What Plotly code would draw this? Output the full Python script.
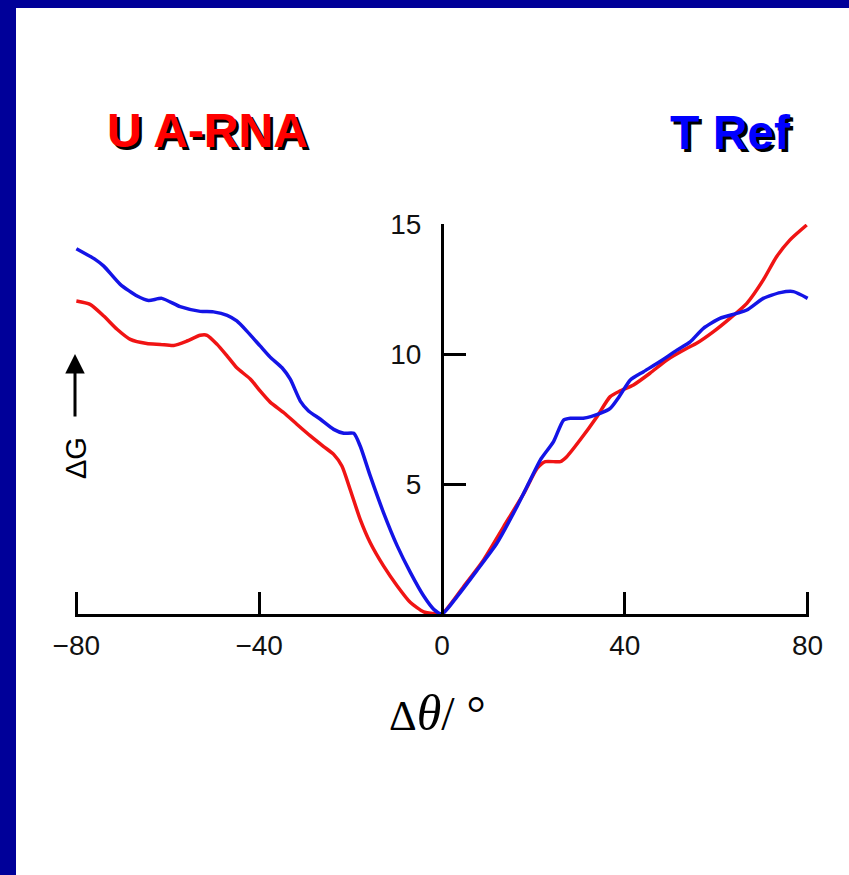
import plotly.graph_objects as go

# ---- data ----
ua_rna_x = [-80, -77.0, -74.0, -71.1, -68.2, -64.6, -61.6, -58.7, -55.8, -52.9, -51.4, -49.2, -47.0,
            -44.9, -41.9, -39.8, -37.6, -34.6, -31.7, -28.8, -25.9, -23.7, -21.9, -20.1, -17.9,
            -15.7, -12.8, -9.8, -6.9, -4.0, -1.1, 0,
            4.7, 9.1, 13.5, 17.9, 20.8, 22.6, 25.9, 27.3, 30.2, 33.9, 36.8, 39.0, 41.9, 45.5,
            49.2, 53.6, 55.7, 59.4, 63.0, 66.7, 70.3, 73.2, 76.1, 79.8]
ua_rna_y = [12.04, 11.91, 11.46, 10.95, 10.56, 10.40, 10.37, 10.33, 10.50, 10.72, 10.72, 10.37, 9.92,
            9.47, 9.03, 8.58, 8.15, 7.74, 7.29, 6.85, 6.44, 6.14, 5.69, 4.79, 3.64,
            2.74, 1.85, 1.08, 0.44, 0.08, 0.0, 0.0,
            1.05, 2.08, 3.36, 4.64, 5.60, 5.86, 5.86, 6.05, 6.69, 7.59, 8.36, 8.58, 8.81, 9.26,
            9.77, 10.22, 10.41, 10.86, 11.37, 11.95, 12.85, 13.74, 14.38, 14.96]

t_ref_x = [-80, -75.9, -74.0, -70.4, -66.7, -64.2, -61.3, -57.3, -52.9, -50.0, -47.0, -44.9, -42.7,
           -39.8, -37.6, -35.0, -33.2, -31.0, -29.2, -26.6, -23.7, -21.5, -19.3, -17.9, -15.7,
           -12.8, -9.8, -6.9, -4.0, -1.8, 0,
           3.3, 7.7, 12.0, 16.4, 19.3, 21.5, 24.4, 26.6, 28.1, 30.9, 34.6, 36.8, 39.0, 41.2,
           44.1, 47.7, 51.4, 54.3, 57.2, 60.8, 64.5, 66.7, 70.3, 74.0, 76.9, 80.0]
t_ref_y = [14.05, 13.64, 13.38, 12.68, 12.23, 12.06, 12.14, 11.82, 11.64, 11.62, 11.49, 11.27, 10.88,
           10.31, 9.88, 9.47, 9.03, 8.19, 7.81, 7.49, 7.10, 6.95, 6.95, 6.46, 5.31,
           3.90, 2.62, 1.59, 0.69, 0.18, 0.0,
           0.67, 1.69, 2.72, 4.13, 5.15, 5.92, 6.63, 7.46, 7.53, 7.53, 7.72, 7.91, 8.42, 9.00,
           9.32, 9.71, 10.15, 10.47, 10.99, 11.37, 11.56, 11.69, 12.14, 12.36, 12.40, 12.14]

x_ticks = [-80, -40, 0, 40, 80]
x_tick_labels = ["\u221280", "\u221240", "0", "40", "80"]
y_ticks = [5, 10, 15]
y_tick_labels = ["5", "10", "15"]

# ---- layout geometry (pixels) ----
W, H = 849, 875
L, R, T, B = 75, 40, 224, 261
pw, ph = W - L - R, H - T - B
X_RANGE = [-80.3, 80.3]


def px(xp):
    return (xp - L) / pw


def py(yp):
    return (H - B - yp) / ph


fig = go.Figure()
fig.add_trace(go.Scatter(x=ua_rna_x, y=ua_rna_y, mode="lines", name="U A-RNA",
                         line=dict(color="#f01414", width=3.5, shape="spline", smoothing=0.6)))
fig.add_trace(go.Scatter(x=t_ref_x, y=t_ref_y, mode="lines", name="T Ref",
                         line=dict(color="#1414e6", width=3.5, shape="spline", smoothing=0.6)))

tick_font = dict(family="Liberation Sans, Arial, sans-serif", size=28, color="#111111")

fig.update_layout(
    width=W, height=H,
    margin=dict(l=L, r=R, t=T, b=B),
    paper_bgcolor="white", plot_bgcolor="white",
    showlegend=False,
    xaxis=dict(range=X_RANGE, showgrid=False, zeroline=False,
               showline=True, linecolor="black", linewidth=3,
               ticks="inside", ticklen=22, tickwidth=3, tickcolor="black",
               tickvals=x_ticks, ticktext=x_tick_labels, tickfont=tick_font,
               ticklabelstandoff=4),
    yaxis=dict(range=[0, 15], showgrid=False, zeroline=False,
               anchor="free", position=0.5, side="left",
               showline=True, linecolor="black", linewidth=3,
               ticks="inside", ticklen=22, tickwidth=3, tickcolor="black",
               tickvals=y_ticks, ticktext=y_tick_labels, tickfont=tick_font,
               ticklabelstandoff=14),
)

# blue frame (left and top bands)
fig.add_shape(type="rect", xref="paper", yref="paper",
              x0=px(0), x1=px(16), y0=py(H), y1=py(0),
              fillcolor="#000099", line=dict(width=0), layer="above")
fig.add_shape(type="rect", xref="paper", yref="paper",
              x0=px(0), x1=px(W), y0=py(8), y1=py(0),
              fillcolor="#000099", line=dict(width=0), layer="above")

title_font = "Liberation Sans, Arial, sans-serif"
for text, color, cx, cy in [("U A-RNA", "#ff0000", 207, 130), ("T Ref", "#0000ff", 730, 133)]:
    fig.add_annotation(x=px(cx), y=py(cy), xref="paper", yref="paper", showarrow=False,
                       xanchor="center", yanchor="middle",
                       text=f"<b>{text}</b>",
                       font=dict(family=title_font, size=48, color=color,
                                 shadow="3px 3px 0px black"))

# x axis title
fig.add_annotation(x=px(437), y=py(713), xref="paper", yref="paper", showarrow=False,
                   xanchor="center", yanchor="middle",
                   text="\u0394<i><span style=\"font-size:50px\">\u03b8</span></i>"
                        "<span style=\"font-size:48px\">/ \u00b0</span>",
                   font=dict(family="Liberation Serif, Times New Roman, serif", size=43, color="black"))

# y axis label with arrow
fig.add_annotation(x=px(76), y=py(458), xref="paper", yref="paper", showarrow=False,
                   xanchor="center", yanchor="middle",
                   text="\u0394G", textangle=-90,
                   font=dict(family="Liberation Sans, Arial, sans-serif", size=29, color="black"))
fig.add_annotation(x=px(75), y=py(354), xref="paper", yref="paper", text="",
                   showarrow=True, ax=0, ay=64, arrowhead=2, arrowsize=1.3,
                   arrowwidth=3, arrowcolor="black")

fig.write_html("out.html")
